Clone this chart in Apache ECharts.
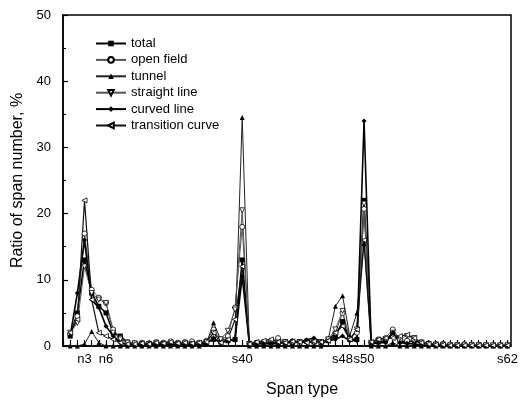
<!DOCTYPE html>
<html>
<head>
<meta charset="utf-8">
<script src="https://cdn.jsdelivr.net/npm/echarts@6/dist/echarts.min.js"></script>
<style>
  html, body { margin: 0; padding: 0; background: #fff; }
  #chart { width: 522px; height: 403px; }
</style>
</head>
<body>
<div id="chart"></div>
<script>
// span type positions 1..62, only some of them are labelled on the axis
var spanCount = 62;
var labelPos  = [3, 6, 25, 39, 42, 62];
var labelText = ['n3', 'n6', 's40', 's48', 's50', 's62'];

var seriesNames = ['total', 'open field', 'tunnel', 'straight line', 'curved line', 'transition curve'];

var total = [1.5, 5, 13, 8, 6, 5, 2, 1.5, 0.5, 0.3,
  0.3, 0.2, 0.3, 0.4, 0.3, 0.3, 0.2, 0.3, 0.3, 0.5,
  1, 0.6, 0.8, 1, 13, 0.3, 0.3, 0.4, 0.3, 0.4,
  0.5, 0.5, 0.6, 0.7, 0.6, 0.5, 0.8, 1.5, 3.7, 1,
  1, 22, 0.4, 0.6, 0.8, 2, 0.7, 0.6, 0.8, 0.5,
  0.3, 0.2, 0.1, 0.1, 0.1, 0.1, 0.1, 0.1, 0.1, 0.1,
  0.1, 0.1];
var openField = [1.8, 4.5, 17, 8.5, 7.3, 6.5, 2.5, 1.2, 0.6, 0.4,
  0.5, 0.4, 0.6, 0.5, 0.7, 0.5, 0.6, 0.7, 0.5, 0.8,
  2.5, 1, 1.5, 5.8, 18, 0.4, 0.5, 0.6, 0.8, 1.2,
  0.6, 0.7, 0.5, 0.8, 0.7, 0.6, 1, 2, 5, 1.2,
  2, 20.7, 0.5, 1, 1.2, 2.5, 1, 0.8, 1, 0.6,
  0.4, 0.3, 0.3, 0.2, 0.2, 0.3, 0.2, 0.2, 0.1, 0.1,
  0.1, 0.1];
var tunnel = [0, 0, 0.3, 2.2, 0.5, 0, 0, 0, 0, 0,
  0, 0, 0, 0, 0, 0, 0, 0, 0, 0.3,
  3.5, 1, 1, 1, 34.5, 0, 0, 0, 0, 0,
  0, 0, 0, 0, 0, 0, 1, 6, 7.6, 1.5,
  5, 15.5, 0, 0, 0, 0.5, 0, 0, 0, 0,
  0, 0, 0, 0, 0, 0, 0, 0, 0, 0,
  0, 0];
var straightLine = [2, 3.5, 12, 8, 7, 6.5, 2, 1, 0.5, 0.4,
  0.3, 0.3, 0.4, 0.3, 0.4, 0.3, 0.4, 0.3, 0.4, 0.6,
  2, 1, 2.3, 5.5, 20.5, 0.3, 0.4, 0.5, 0.6, 0.5,
  0.6, 0.5, 0.6, 0.6, 0.5, 0.6, 1, 2.5, 5.3, 1,
  2.5, 21.5, 0.5, 0.8, 1, 2, 1.2, 1.5, 1.2, 0.5,
  0.3, 0.2, 0.2, 0.1, 0.1, 0.1, 0.1, 0.1, 0.1, 0.1,
  0.1, 0.1];
var curvedLine = [1.5, 8, 16, 7, 5.8, 3, 1.5, 0.5, 0.2, 0.2,
  0.2, 0.3, 0.2, 0.3, 0.2, 0.3, 0.2, 0.3, 0.2, 0.4,
  1.2, 0.5, 0.8, 1, 10.5, 0.3, 0.3, 0.5, 0.4, 0.6,
  0.5, 0.8, 0.6, 0.9, 1.2, 0.6, 0.8, 1, 1.5, 0.8,
  0.8, 34, 0.3, 0.5, 0.5, 2, 0.5, 0.4, 0.3, 0.2,
  0.1, 0.1, 0.1, 0, 0, 0, 0, 0, 0, 0,
  0, 0];
var transitionCurve = [2, 4, 22, 7, 2, 1.5, 1, 0.5, 0.3, 0.3,
  0.4, 0.3, 0.5, 0.4, 0.6, 0.4, 0.5, 0.4, 0.5, 0.6,
  2, 0.5, 1, 4, 12, 0.3, 0.6, 0.8, 1, 0.6,
  0.5, 0.7, 0.6, 0.5, 0.7, 0.6, 0.8, 2, 3, 1,
  2.5, 16, 0.6, 1, 1.2, 1.2, 1.5, 1.7, 1.2, 0.5,
  0.3, 0.2, 0.2, 0.1, 0.1, 0.1, 0.1, 0.1, 0.1, 0.1,
  0.1, 0.1];

var seriesData = [total, openField, tunnel, straightLine, curvedLine, transitionCurve];
var lineColors = ['#000', '#555', '#222', '#555', '#000', '#111'];
var lineWidths = [1.6, 1, 1, 1, 1.6, 1.2];
var symbols = ['rect', 'circle', 'triangle', 'triangle', 'diamond', 'triangle'];
var symbolRot = [0, 0, 0, 180, 0, 90];
var hollow = [false, true, false, true, false, true];

var font = 'Liberation Sans, Arial, sans-serif';

var myChart = echarts.init(document.getElementById('chart'));

var series = seriesNames.map(function (name, k) {
    return {
        name: name,
        type: 'line',
        data: seriesData[k].map(function (v, i) { return [i + 1, v]; }),
        symbol: symbols[k],
        symbolRotate: symbolRot[k],
        symbolSize: 5,
        lineStyle: { color: lineColors[k], width: lineWidths[k] },
        itemStyle: {
            color: hollow[k] ? '#fff' : '#000',
            borderColor: '#000',
            borderWidth: hollow[k] ? 0.8 : 0
        },
        animation: false
    };
});

var option = {
    backgroundColor: '#fff',
    grid: {
        left: 63, right: 11, top: 15, bottom: 56,
        show: true, borderColor: '#000', borderWidth: 1.5
    },
    legend: {
        orient: 'vertical',
        left: 95,
        top: 37,
        padding: 0,
        itemWidth: 30,
        itemHeight: 7,
        itemGap: 3.4,
        textStyle: { fontFamily: font, fontSize: 13, color: '#000' },
        data: seriesNames
    },
    xAxis: {
        type: 'value',
        min: 0,
        max: 62.5,
        interval: 1,
        name: 'Span type',
        nameLocation: 'middle',
        nameGap: 36,
        nameTextStyle: { fontFamily: font, fontSize: 16, color: '#000', padding: [0, 0, 0, 30] },
        axisLine: { lineStyle: { color: '#000', width: 1.5 } },
        axisTick: { inside: true, length: 6, lineStyle: { color: '#000', width: 1.2 } },
        splitLine: { show: false },
        axisLabel: {
            fontFamily: font, fontSize: 13, color: '#000', margin: 7,
            showMinLabel: true, showMaxLabel: false,
            formatter: function (v) {
                var k = labelPos.indexOf(v);
                return k >= 0 ? labelText[k] : '';
            }
        }
    },
    yAxis: {
        type: 'value',
        min: 0,
        max: 50,
        interval: 10,
        name: 'Ratio of span number, %',
        nameLocation: 'middle',
        nameGap: 30,
        nameTextStyle: { fontFamily: font, fontSize: 16, color: '#000' },
        axisLine: { show: true, lineStyle: { color: '#000', width: 1.5 } },
        axisTick: { inside: true, length: 5, lineStyle: { color: '#000', width: 1.2 } },
        minorTick: { show: true, splitNumber: 2, length: 3, lineStyle: { color: '#000' } },
        splitLine: { show: false },
        axisLabel: { fontFamily: font, fontSize: 13, color: '#000', margin: 12 }
    },
    series: series
};

myChart.setOption(option);
</script>
</body>
</html>
